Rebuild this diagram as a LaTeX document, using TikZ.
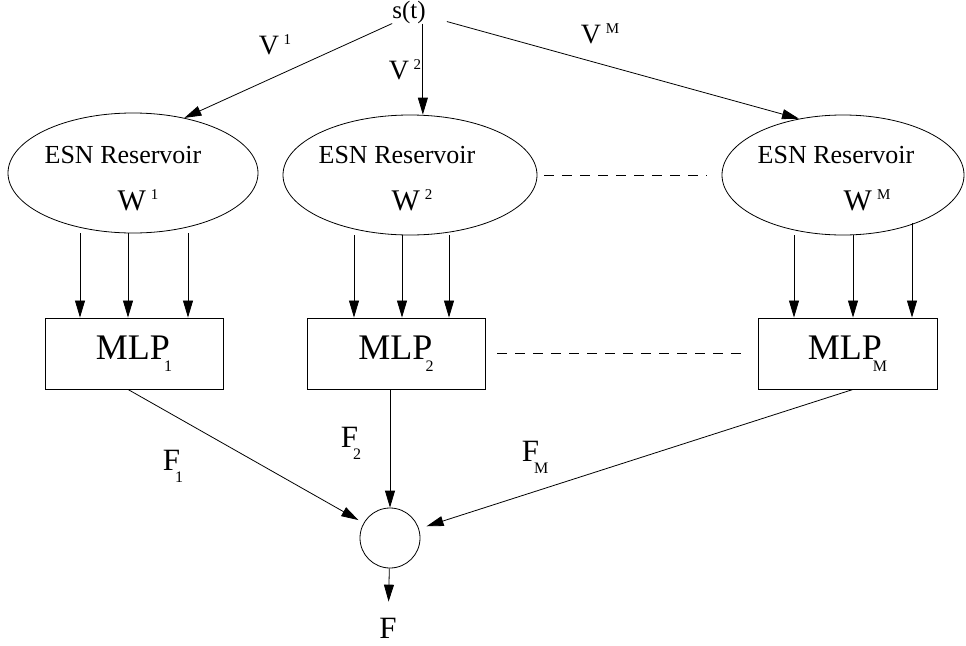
\documentclass[tikz,border=0pt]{standalone}
\usepackage{fontspec}
\setmainfont{Liberation Serif}
\usetikzlibrary{shapes.geometric,arrows.meta}
\newcommand{\upidx}[1]{\,\raisebox{.36em}{\fontsize{15}{15}\selectfont #1}}
\newcommand{\lowidx}[2]{\kern#1\raisebox{-12pt}{\fontsize{16}{16}\selectfont #2}}
\tikzset{
    arr/.style={-{Triangle[length=17pt,width=10pt]}, line width=0.8pt},
    esn/.style={draw, ellipse, line width=0.8pt, minimum height=120pt, inner sep=0pt},
    mlp/.style={draw, rectangle, line width=0.9pt, minimum width=178pt, minimum height=71pt,
        inner sep=0pt, font=\fontsize{36}{36}\selectfont},
    esntxt/.style={inner sep=0pt, font=\fontsize{26}{26}\selectfont},
    wtxt/.style={inner sep=0pt, font=\fontsize{30}{30}\selectfont},
    vtxt/.style={inner sep=0pt, font=\fontsize{28}{28}\selectfont},
    ftxt/.style={inner sep=0pt, font=\fontsize{31}{31}\selectfont},
    gapline/.style={line width=0.8pt, dash pattern=on 10pt off 8pt}
}
\begin{document}
\begin{tikzpicture}[x=1pt, y=-1pt]
    \useasboundingbox (0, 0) rectangle (966, 645);
    % input signal
    \node[inner sep=0pt, font=\fontsize{25}{25}\selectfont] (st) at (409, 12) {s(t)};
    % reservoirs
    \node[esn, minimum width=250pt] (e1) at (133, 173) {};
    \node[esn, minimum width=254pt] (e2) at (410, 175) {};
    \node[esn, minimum width=242pt] (eM) at (843, 175) {};
    \node[esntxt] (r1) at (123, 155) {ESN Reservoir};
    \node[esntxt] (r2) at (397, 155) {ESN Reservoir};
    \node[esntxt] (rM) at (836, 155) {ESN Reservoir};
    \node[wtxt] (w1) at (138, 200) {W\upidx{1}};
    \node[wtxt] (w2) at (412, 200) {W\upidx{2}};
    \node[wtxt] (wM) at (867, 200) {W\upidx{M}};
    % readouts
    \node[mlp] (m1) at (134, 353.5) {MLP\lowidx{-6pt}{1}};
    \node[mlp] (m2) at (396, 353.5) {MLP\lowidx{-7pt}{2}};
    \node[mlp, minimum width=179pt] (mM) at (847.5, 353.5) {MLP\lowidx{-9pt}{M}};
    % combiner
    \node[draw, circle, minimum size=60pt, inner sep=0pt, line width=0.8pt] (sum) at (390, 538) {};
    \node[ftxt] (F) at (388, 628) {F};

    % input weights
    \draw[arr] (st.south west) -- (e1.47);
    \draw[arr] ([xshift=-3pt]st.south east) -- ([xshift=-3pt]st.south east |- e2.north);
    \draw[arr] ([xshift=21pt, yshift=2pt]st.south east) -- (eM.128);
    \node[vtxt] (v1) at (275, 45) {V\upidx{1}};
    \node[vtxt] (v2) at (405, 70) {V\upidx{2}};
    \node[vtxt] (vM) at (600, 34) {V\upidx{M}};

    % reservoir states
    \foreach \dx in {-53, -5, 55}
        \draw[arr] ([xshift=\dx pt]e1.south) -- ([xshift=\dx pt]e1.south |- m1.north);
    \foreach \dx in {-56, -8, 39}
        \draw[arr] ([xshift=\dx pt]e2.south) -- ([xshift=\dx pt]e2.south |- m2.north);
    \foreach \dx in {-49, 10}
        \draw[arr] ([xshift=\dx pt]eM.south) -- ([xshift=\dx pt]eM.south |- mM.north);
    \draw[arr] ([xshift=69pt, yshift=12pt]eM.south) -- ([xshift=69pt]eM.south |- mM.north);

    \draw[gapline] ([xshift=7pt]e2.east) -- ([xshift=-15pt]eM.west);
    \draw[gapline] ([xshift=12pt]m2.east) -- ([xshift=-11pt]mM.west);

    % outputs
    \draw[arr, shorten >=6pt] ([xshift=-6pt]m1.south) -- (sum);
    \draw[arr] (m2.south -| sum) -- (sum);
    \draw[arr, shorten >=8pt] ([xshift=5.5pt]mM.south) -- (sum);
    \draw[arr, shorten >=16pt] (sum) -- (F);
    \node[ftxt] (f1) at (173, 466) {F\lowidx{-5pt}{1}};
    \node[ftxt] (f2) at (351, 443) {F\lowidx{-5pt}{2}};
    \node[ftxt] (fM) at (535, 457) {F\lowidx{-5pt}{M}};
\end{tikzpicture}
\end{document}
